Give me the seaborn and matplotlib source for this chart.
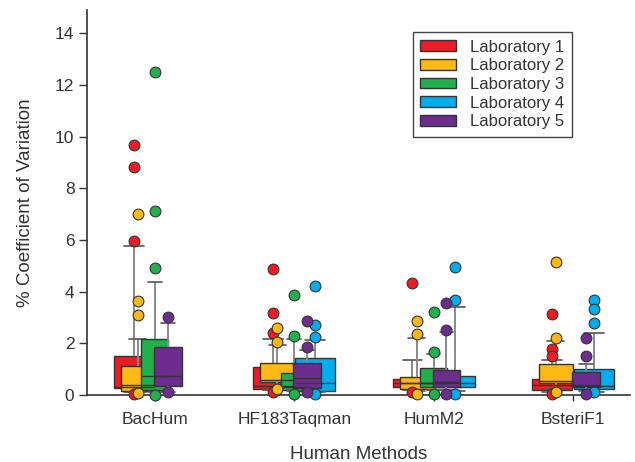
import matplotlib
matplotlib.use("Agg")
import matplotlib.pyplot as plt
from matplotlib.patches import Patch
import pandas as pd
import seaborn as sns


# %%
METODOS = ["BacHum", "HF183Taqman", "HumM2", "BsteriF1"]
LABS = ["Laboratory 1", "Laboratory 2", "Laboratory 3", "Laboratory 4", "Laboratory 5"]

# Cada caja: [bigote inferior, q1, mediana, q3, bigote superior] por metodo.
# None = ese laboratorio no tiene datos para el metodo.
caja_lab1 = [[0.12, 0.27, 0.32, 1.52, 5.76], [0.20, 0.23, 0.35, 1.08, 2.17],
             [0.20, 0.30, 0.45, 0.61, 1.35], [0.12, 0.19, 0.39, 0.62, 1.34]]
caja_lab2 = [[0.12, 0.17, 0.39, 1.12, 2.17], [0.30, 0.51, 0.58, 1.22, 1.93],
             [0.15, 0.22, 0.46, 0.68, 2.19], [0.25, 0.45, 0.55, 1.19, 2.10]]
caja_lab3 = [[0.10, 0.19, 0.73, 2.15, 4.37], [0.15, 0.19, 0.30, 0.85, 2.17],
             [0.20, 0.31, 0.46, 1.03, 1.57], None]
caja_lab4 = [None, [0.10, 0.14, 0.46, 1.43, 2.13],
             [0.15, 0.30, 0.46, 0.75, 3.41], [0.12, 0.22, 0.35, 0.99, 2.41]]
caja_lab5 = [[0.12, 0.35, 0.73, 1.86, 2.78], [0.20, 0.27, 0.66, 1.25, 1.76],
             [0.20, 0.32, 0.51, 0.97, 2.45], [0.15, 0.30, 0.40, 0.90, 1.20]]

# Valores atipicos (fuera de los percentiles 10-90)
atip_lab1 = [[9.69, 8.83, 5.97, 0.05], [4.87, 3.18, 2.39, 0.12], [4.32, 0.10], [3.13, 1.78, 1.51, 0.03]]
atip_lab2 = [[7.00, 3.63, 3.09, 0.06], [2.58, 2.06, 0.22], [2.87, 2.36, 0.05], [5.16, 2.19, 0.10]]
atip_lab3 = [[12.50, 7.13, 4.92, 0.00], [3.89, 2.28, 0.05], [3.21, 1.65, 0.05], []]
atip_lab4 = [[], [4.21, 2.71, 2.26, 0.05], [4.96, 3.67, 0.05], [3.67, 3.34, 2.77, 0.10]]
atip_lab5 = [[3.03, 0.10], [2.88, 1.86, 0.10], [3.57, 2.52, 0.05], [2.19, 1.51, 0.05]]

COLORES = ["#ED1C24", "#FDB813", "#21B04B", "#00AEEF", "#6C2D8F"]
# desplazamiento y ancho de cada caja dentro del grupo (unidades del eje x)
DESPLAZA = [-0.151, -0.122, 0.0, 0.151, 0.093]
ANCHO = [0.287, 0.244, 0.194, 0.287, 0.200]
ORDEN_DIBUJO = [0, 1, 2, 3, 4]

GRIS = "#333333"


# %%
def armar_tabla(cajas, desplaza):
    filas = []
    for i, valores in enumerate(cajas):
        if not valores:
            continue
        for v in valores:
            filas.append({"pos": i + desplaza, "cv": v})
    return pd.DataFrame(filas)


cajas = [caja_lab1, caja_lab2, caja_lab3, caja_lab4, caja_lab5]
atipicos = [atip_lab1, atip_lab2, atip_lab3, atip_lab4, atip_lab5]

sns.set_theme(style="ticks")
plt.rcParams["font.family"] = ["Liberation Sans", "DejaVu Sans"]
plt.rcParams["text.color"] = GRIS

fig = plt.figure(figsize=(6.35, 4.62), dpi=100)
ax = fig.add_axes([0.137, 0.145, 0.855, 0.833])

for k in ORDEN_DIBUJO:
    tabla = armar_tabla(cajas[k], DESPLAZA[k])
    sns.boxplot(
        data=tabla, x="pos", y="cv", native_scale=True, orient="x",
        width=ANCHO[k], whis=(0, 100), showfliers=False,
        color=COLORES[k], saturation=1, linecolor=GRIS, linewidth=1.0,
        whiskerprops={"color": "#8a8a8a", "linewidth": 1.4},
        capprops={"color": "#555555", "linewidth": 1.2},
        medianprops={"color": GRIS, "linewidth": 1.0},
        ax=ax,
    )

for k in ORDEN_DIBUJO:
    tabla = armar_tabla(atipicos[k], DESPLAZA[k])
    if tabla.empty:
        continue
    sns.scatterplot(
        data=tabla, x="pos", y="cv", color=COLORES[k], s=60,
        edgecolor=GRIS, linewidth=0.8, zorder=5, clip_on=False,
        legend=False, ax=ax,
    )

ax.set_xlim(-0.488, 3.41)
ax.set_ylim(0, 14.9)
ax.set_xticks(range(len(METODOS)))
ax.set_xticklabels(METODOS)
ax.set_yticks(range(0, 15, 2))
ax.set_xlabel("Human Methods", fontsize=13.5, labelpad=14, color=GRIS)
ax.set_ylabel("% Coefficient of Variation", fontsize=13.5, labelpad=15, color=GRIS)
ax.tick_params(axis="y", length=6, width=1, pad=3, labelsize=12.5, colors=GRIS)
ax.tick_params(axis="x", length=4, width=1, pad=8, labelsize=12.5, colors=GRIS)
sns.despine(ax=ax)
for lado in ["left", "bottom"]:
    ax.spines[lado].set_color(GRIS)
    ax.spines[lado].set_linewidth(1.2)

manijas = [Patch(facecolor=c, edgecolor=GRIS, linewidth=1) for c in COLORES]
leyenda = ax.legend(
    manijas, LABS, loc="upper right", bbox_to_anchor=(0.893, 0.943),
    borderaxespad=0, frameon=True, fancybox=False, framealpha=1,
    edgecolor="#444444", fontsize=12, handlelength=2.15, handleheight=0.6,
    handletextpad=0.85, labelspacing=0.22, borderpad=0.45,
)
leyenda.get_frame().set_linewidth(1.0)

fig.savefig("out.png", dpi=100)
